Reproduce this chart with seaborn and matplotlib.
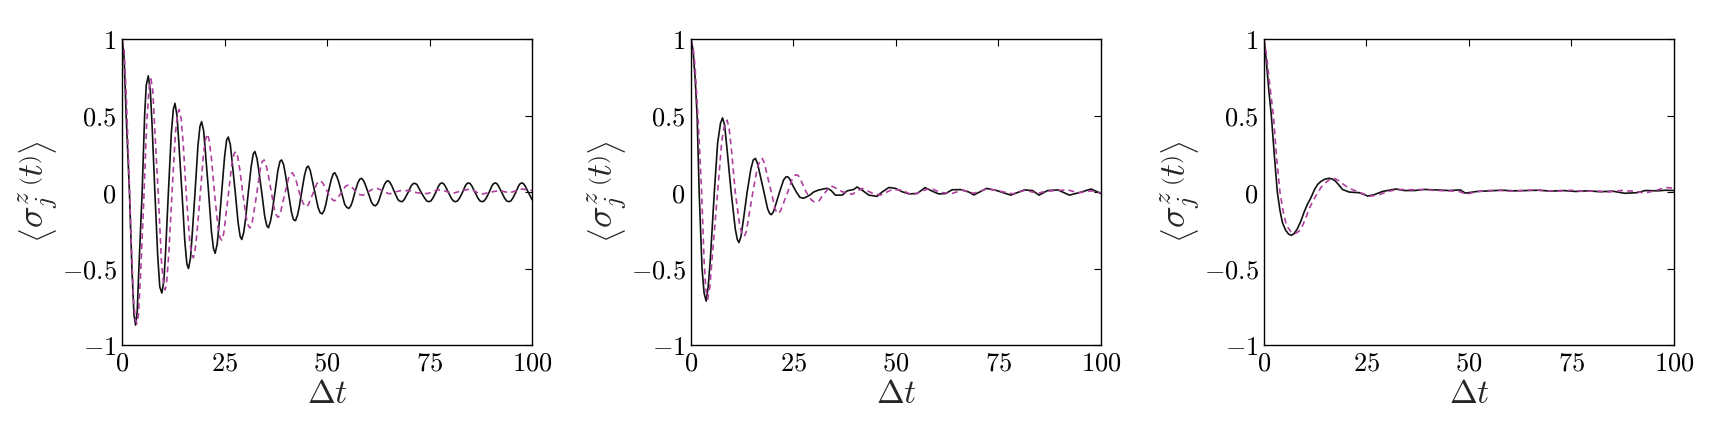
import matplotlib
matplotlib.use("Agg")
import matplotlib.pyplot as plt
import seaborn as sns
import pandas as pd

# ---------------- data ----------------
# Panel 1
p1_black_t = [0, 0.5, 1.0, 1.8, 2.4, 2.9, 3.3, 3.7, 4.1, 4.9, 5.5, 5.9, 6.4, 6.9, 7.3, 8.0, 8.7, 9.2, 9.7,
              10.2, 10.6, 11.3, 12.0, 12.5, 12.9, 13.4, 13.8, 14.6, 15.3, 15.8, 16.2, 16.7, 17.1, 17.8,
              18.5, 19.0, 19.4, 19.9, 20.3, 21.1, 21.8, 22.3, 22.7, 23.2, 23.6, 24.3, 25.0, 25.5, 25.9,
              26.4, 26.8, 27.6, 28.3, 28.8, 29.2, 29.7, 30.1, 30.8, 31.5, 32.0, 32.4, 32.9, 33.3, 34.1,
              34.8, 35.3, 35.7, 36.2, 36.6, 37.3, 38.0, 38.5, 38.9, 39.4, 39.8, 40.6, 41.3, 41.8, 42.3,
              42.8, 43.2, 43.8, 44.5, 45.0, 45.4, 45.9, 46.3, 47.1, 47.8, 48.3, 48.8, 49.3, 49.7, 50.3,
              51.0, 51.5, 51.9, 52.4, 52.8, 53.6, 54.3, 54.8, 55.3, 55.8, 56.2, 56.8, 57.5, 58.0, 58.4,
              58.9, 59.3, 60.1, 60.8, 61.3, 61.8, 62.3, 62.7, 63.3, 64.0, 64.5, 64.9, 65.4, 65.8, 66.6,
              67.3, 67.8, 68.3, 68.8, 69.2, 69.8, 70.5, 71.0, 71.4, 71.9, 72.3, 73.0, 73.8, 74.3, 74.8,
              75.3, 75.8, 76.5, 77.2, 77.6, 78.0, 78.4, 78.8, 79.6, 80.3, 80.8, 81.3, 81.8, 82.3, 83.0,
              83.7, 84.1, 84.5, 84.9, 85.3, 86.1, 86.8, 87.3, 87.8, 88.3, 88.8, 89.5, 90.2, 90.6, 91.0,
              91.4, 91.8, 92.6, 93.3, 93.8, 94.3, 94.8, 95.3, 96.0, 96.7, 97.1, 97.5, 97.9, 98.3, 99.1,
              99.6, 100.0]
p1_black_v = [1.00, 0.88, 0.50, 0.00, -0.50, -0.80, -0.87, -0.78, -0.50, 0.00, 0.50, 0.70, 0.76, 0.66, 0.45,
              0.00, -0.42, -0.62, -0.66, -0.58, -0.40, 0.00, 0.38, 0.54, 0.58, 0.50, 0.34, 0.00, -0.32,
              -0.47, -0.50, -0.43, -0.28, 0.00, 0.30, 0.43, 0.46, 0.40, 0.27, 0.00, -0.26, -0.37, -0.40,
              -0.34, -0.23, 0.00, 0.23, 0.34, 0.36, 0.31, 0.21, 0.00, -0.20, -0.29, -0.31, -0.26, -0.18,
              0.00, 0.17, 0.25, 0.265, 0.22, 0.15, -0.01, -0.16, -0.22, -0.233, -0.19, -0.13, 0.00, 0.14,
              0.20, 0.21, 0.18, 0.12, -0.01, -0.13, -0.18, -0.187, -0.15, -0.10, 0.00, 0.11, 0.16, 0.17,
              0.14, 0.09, -0.01, -0.10, -0.135, -0.143, -0.12, -0.08, 0.00, 0.08, 0.12, 0.126, 0.10, 0.07,
              -0.01, -0.08, -0.10, -0.107, -0.09, -0.06, 0.00, 0.06, 0.085, 0.09, 0.075, 0.05, -0.01,
              -0.065, -0.085, -0.09, -0.075, -0.05, 0.00, 0.05, 0.07, 0.074, 0.06, 0.04, -0.01, -0.05,
              -0.06, -0.063, -0.05, -0.03, 0.00, 0.04, 0.055, 0.057, 0.05, 0.03, -0.005, -0.04, -0.058,
              -0.063, -0.058, -0.04, -0.003, 0.04, 0.055, 0.06, 0.055, 0.04, -0.003, -0.04, -0.058, -0.063,
              -0.058, -0.04, -0.003, 0.04, 0.055, 0.06, 0.055, 0.04, -0.003, -0.04, -0.058, -0.063, -0.058,
              -0.04, -0.003, 0.04, 0.055, 0.06, 0.055, 0.04, -0.003, -0.04, -0.058, -0.063, -0.058, -0.04,
              -0.003, 0.04, 0.055, 0.06, 0.055, 0.04, -0.003, -0.03, -0.05]

p1_dash_t = [0, 0.5, 1.0, 1.6, 2.2, 2.8, 3.2, 3.6, 4.0, 4.5, 5.3, 6.0, 6.6, 7.05, 7.5, 7.9, 8.8, 9.6, 10.1,
             10.5, 10.9, 11.4, 12.2, 13.0, 13.5, 13.95, 14.4, 14.9, 15.7, 16.5, 17.0, 17.4, 17.8, 18.3,
             19.1, 19.9, 20.4, 20.85, 21.3, 21.8, 22.6, 23.4, 23.9, 24.3, 24.8, 25.2, 26.0, 26.8, 27.3,
             27.75, 28.2, 28.7, 29.5, 30.3, 30.8, 31.2, 31.7, 32.1, 32.9, 33.7, 34.2, 34.65, 35.1, 35.6,
             36.4, 37.2, 37.7, 38.1, 38.6, 39.0, 39.8, 40.6, 41.1, 41.55, 42.0, 42.5, 43.3, 44.1, 44.6,
             45.0, 45.5, 45.9, 46.7, 47.5, 48.0, 48.45, 48.9, 49.4, 50.2, 51.0, 51.5, 51.9, 52.4, 52.8,
             53.6, 54.4, 54.9, 55.35, 55.8, 56.3, 57.1, 57.9, 58.4, 58.8, 59.3, 60.0, 60.8, 61.5, 62.25,
             63.0, 64.0, 65.0, 65.7, 66.5, 68.0, 70.0, 72.0, 74.5, 77.0, 79.0, 80.5, 83.0, 85.0, 87.5,
             90.0, 92.0, 94.5, 97.5, 100.0]
p1_dash_v = [1.00, 0.93, 0.65, 0.20, -0.30, -0.70, -0.83, -0.86, -0.80, -0.55, -0.05, 0.45, 0.68, 0.74,
             0.66, 0.45, 0.00, -0.45, -0.60, -0.64, -0.58, -0.40, 0.00, 0.38, 0.51, 0.54, 0.48, 0.32,
             -0.03, -0.32, -0.41, -0.43, -0.38, -0.26, 0.00, 0.26, 0.35, 0.38, 0.33, 0.22, -0.02, -0.23,
             -0.30, -0.315, -0.27, -0.18, 0.00, 0.19, 0.25, 0.265, 0.23, 0.15, -0.02, -0.17, -0.22, -0.235,
             -0.20, -0.14, 0.00, 0.15, 0.20, 0.21, 0.18, 0.12, 0.00, -0.12, -0.155, -0.165, -0.14, -0.09,
             0.00, 0.09, 0.12, 0.126, 0.105, 0.07, -0.01, -0.07, -0.09, -0.096, -0.08, -0.05, 0.00, 0.055,
             0.07, 0.074, 0.06, 0.04, -0.005, -0.04, -0.054, -0.057, -0.045, -0.03, 0.00, 0.035, 0.044,
             0.046, 0.038, 0.025, 0.00, -0.016, -0.02, -0.02, -0.015, 0.00, 0.015, 0.022, 0.024, 0.015,
             0.00, -0.01, -0.01, 0.00, 0.01, 0.01, -0.005, -0.01, 0.015, 0.005, -0.01, 0.01, 0.02, -0.015,
             0.00, 0.01, -0.005, 0.02, 0.01]

# Panel 2
p2_black_t = [0, 0.5, 1.0, 1.5, 2.0, 2.7, 3.2, 3.7, 4.2, 4.7, 5.7, 6.5, 7.2, 7.7, 8.2, 8.8, 9.8, 10.8, 11.3,
              11.7, 12.2, 12.8, 13.7, 14.6, 15.2, 15.7, 16.2, 16.8, 17.8, 18.7, 19.2, 19.6, 20.1, 20.7,
              21.6, 22.6, 23.2, 23.6, 24.1, 24.7, 25.7, 26.6, 27.5, 28.3, 29.0, 29.9, 31.0, 32.6, 33.3,
              34.2, 35.2, 36.9, 38.1, 39.7, 40.5, 41.7, 43.4, 45.4, 46.6, 48.3, 49.9, 51.5, 53.2, 55.2,
              57.1, 58.9, 60.4, 62.1, 63.7, 65.8, 67.8, 69.0, 72.1, 74.7, 78.0, 81.3, 83.3, 84.9, 87.0,
              89.5, 92.3, 95.2, 97.6, 100.0]
p2_black_v = [1.0, 0.93, 0.75, 0.50, 0.00, -0.50, -0.66, -0.713, -0.62, -0.45, 0.00, 0.32, 0.45, 0.485,
              0.44, 0.28, 0.00, -0.24, -0.31, -0.33, -0.29, -0.18, 0.00, 0.15, 0.21, 0.22, 0.19, 0.12,
              0.00, -0.11, -0.14, -0.148, -0.13, -0.08, 0.00, 0.08, 0.10, 0.10, 0.085, 0.05, 0.00, -0.035,
              -0.04, -0.03, -0.02, 0.00, 0.012, 0.022, 0.024, 0.01, -0.02, -0.02, 0.008, 0.017, 0.033,
              0.013, -0.02, -0.028, 0.00, 0.03, 0.024, 0.002, -0.012, -0.009, 0.029, 0.005, -0.012, -0.01,
              0.015, 0.016, 0.00, -0.019, 0.024, 0.009, -0.02, 0.014, 0.01, -0.02, 0.01, 0.014, -0.02,
              0.00, 0.02, -0.01]

p2_dash_t = [0, 0.5, 1.0, 1.7, 2.6, 3.2, 3.6, 4.07, 4.6, 5.2, 6.5, 7.5, 8.2, 8.8, 9.3, 9.9, 10.8, 11.9,
             12.5, 13.0, 13.5, 14.1, 15.1, 16.2, 16.9, 17.4, 17.9, 18.6, 19.6, 20.5, 21.0, 21.4, 21.9,
             22.6, 23.6, 24.7, 25.4, 25.9, 26.4, 27.1, 28.1, 29.3, 30.0, 30.6, 31.3, 32.2, 33.4, 34.2,
             35.0, 36.9, 39.3, 41.7, 44.4, 46.2, 49.1, 51.5, 54.0, 56.0, 58.4, 60.9, 63.7, 66.2, 69.0,
             72.3, 75.0, 78.5, 81.5, 84.5, 86.6, 89.0, 91.9, 94.5, 97.6, 100.0]
p2_dash_v = [1.0, 0.95, 0.82, 0.50, 0.00, -0.45, -0.63, -0.70, -0.62, -0.42, 0.00, 0.33, 0.44, 0.47, 0.42,
             0.27, 0.00, -0.22, -0.28, -0.29, -0.26, -0.16, 0.00, 0.16, 0.21, 0.22, 0.19, 0.11, 0.00,
             -0.11, -0.135, -0.14, -0.12, -0.07, 0.00, 0.085, 0.11, 0.113, 0.10, 0.06, 0.00, -0.05,
             -0.063, -0.065, -0.055, -0.02, 0.02, 0.04, 0.03, 0.002, -0.015, 0.024, -0.009, -0.02, 0.017,
             0.012, -0.02, 0.002, 0.026, -0.003, -0.009, 0.013, -0.008, 0.022, 0.008, -0.012, 0.012,
             -0.008, 0.005, 0.01, 0.014, -0.005, 0.008, -0.005]

# Panel 3
p3_black_t = [0, 0.6, 1.2, 1.8, 2.5, 3.26, 3.9, 4.5, 5.3, 6.0, 6.7, 7.4, 8.15, 9.0, 9.8, 10.6, 11.4, 12.4,
              13.1, 13.9, 14.9, 15.9, 16.7, 17.5, 18.3, 19.15, 20.8, 23.2, 24.3, 25.3, 26.9, 28.9, 30.5,
              32.2, 34.2, 36.7, 39.1, 42.2, 45.0, 47.9, 49.1, 52.0, 55.0, 58.0, 61.0, 64.0, 67.0, 70.0,
              73.0, 76.0, 79.0, 82.0, 85.0, 88.0, 91.0, 93.0, 96.0, 98.0, 100.0]
p3_black_v = [1.0, 0.85, 0.66, 0.50, 0.25, 0.00, -0.12, -0.20, -0.25, -0.275, -0.283, -0.27, -0.24, -0.19,
              -0.13, -0.08, -0.04, 0.02, 0.05, 0.07, 0.085, 0.09, 0.085, 0.07, 0.045, 0.017, 0.00, -0.004,
              -0.015, -0.026, -0.017, 0.004, 0.012, 0.02, 0.01, 0.01, 0.017, 0.014, 0.01, 0.014, -0.007,
              0.004, 0.008, 0.012, 0.008, 0.01, 0.012, 0.006, 0.01, 0.004, 0.008, 0.002, 0.006, -0.008,
              -0.004, 0.01, 0.008, 0.012, 0.01]

p3_dash_t = [0, 0.6, 1.2, 2.3, 3.1, 3.9, 4.7, 5.5, 6.6, 7.7, 8.6, 9.4, 10.2, 11.0, 12.0, 13.0, 13.9, 14.7,
             15.9, 17.1, 18.2, 19.2, 20.2, 21.2, 23.6, 25.7, 28.1, 30.2, 32.6, 35.9, 39.1, 42.0, 45.0,
             47.5, 49.4, 51.5, 54.0, 57.0, 60.0, 63.0, 66.0, 69.0, 72.0, 75.0, 78.0, 81.0, 84.0, 87.0,
             90.0, 93.0, 95.5, 98.0, 100.0]
p3_dash_v = [1.0, 0.90, 0.75, 0.50, 0.22, 0.00, -0.13, -0.22, -0.26, -0.27, -0.255, -0.22, -0.17, -0.11,
             -0.055, -0.01, 0.03, 0.054, 0.08, 0.09, 0.075, 0.054, 0.035, 0.02, -0.005, -0.028, -0.017,
             0.004, 0.017, 0.015, 0.017, 0.01, 0.008, 0.005, -0.014, 0.00, 0.01, 0.012, 0.006, 0.01,
             0.014, 0.008, 0.006, 0.012, 0.004, 0.008, 0.00, 0.01, 0.006, -0.006, 0.01, 0.03, 0.025]

x_ticks = [0, 25, 50, 75, 100]
x_tick_labels = ["$0$", "$25$", "$50$", "$75$", "$100$"]
y_ticks = [-1, -0.5, 0, 0.5, 1]
y_tick_labels = ["$-1$", "$-0.5$", "$0$", "$0.5$", "$1$"]
x_label = r"$\Delta t$"
y_label = r"$\left\langle \sigma_j^z\,\left(t\right)\right\rangle$"

panels = [
    (p1_black_t, p1_black_v, p1_dash_t, p1_dash_v),
    (p2_black_t, p2_black_v, p2_dash_t, p2_dash_v),
    (p3_black_t, p3_black_v, p3_dash_t, p3_dash_v),
]

# ---------------- styling ----------------
sns.set_style("white")
plt.rcParams["font.family"] = ["DejaVu Serif", "DejaVu Sans"]
plt.rcParams["mathtext.fontset"] = "cm"
plt.rcParams["axes.edgecolor"] = "black"
plt.rcParams["axes.linewidth"] = 1.0

fig = plt.figure(figsize=(17.12, 4.37), dpi=100)
lefts = [0.0713, 0.4036, 0.7383]
width, height, bottom = 0.2395, 0.700, 0.2105

BLACK = "#111111"
MAGENTA = "#b0409f"

for left, (bt, bv, dt, dv) in zip(lefts, panels):
    ax = fig.add_axes([left, bottom, width, height])
    dfb = pd.DataFrame({"t": bt, "v": bv})
    dfd = pd.DataFrame({"t": dt, "v": dv})
    sns.lineplot(data=dfb, x="t", y="v", ax=ax, color=BLACK, linewidth=1.2,
                 estimator=None, sort=False)
    sns.lineplot(data=dfd, x="t", y="v", ax=ax, color=MAGENTA, linewidth=1.2,
                 linestyle=(0, (3.5, 2.5)), estimator=None, sort=False)
    ax.set_xlim(0, 100)
    ax.set_ylim(-1, 1)
    ax.set_xticks(x_ticks)
    ax.set_xticklabels(x_tick_labels)
    ax.set_yticks(y_ticks)
    ax.set_yticklabels(y_tick_labels)
    ax.tick_params(direction="in", top=True, right=True, length=5, width=0.8,
                   labelsize=19, pad=4, colors="black")
    ax.set_xlabel(x_label, fontsize=24, labelpad=2)
    ax.set_ylabel(y_label, fontsize=26, labelpad=1)
    for s in ax.spines.values():
        s.set_visible(True)
        s.set_color("black")
        s.set_linewidth(1.0)

fig.savefig("out.png", dpi=100)
